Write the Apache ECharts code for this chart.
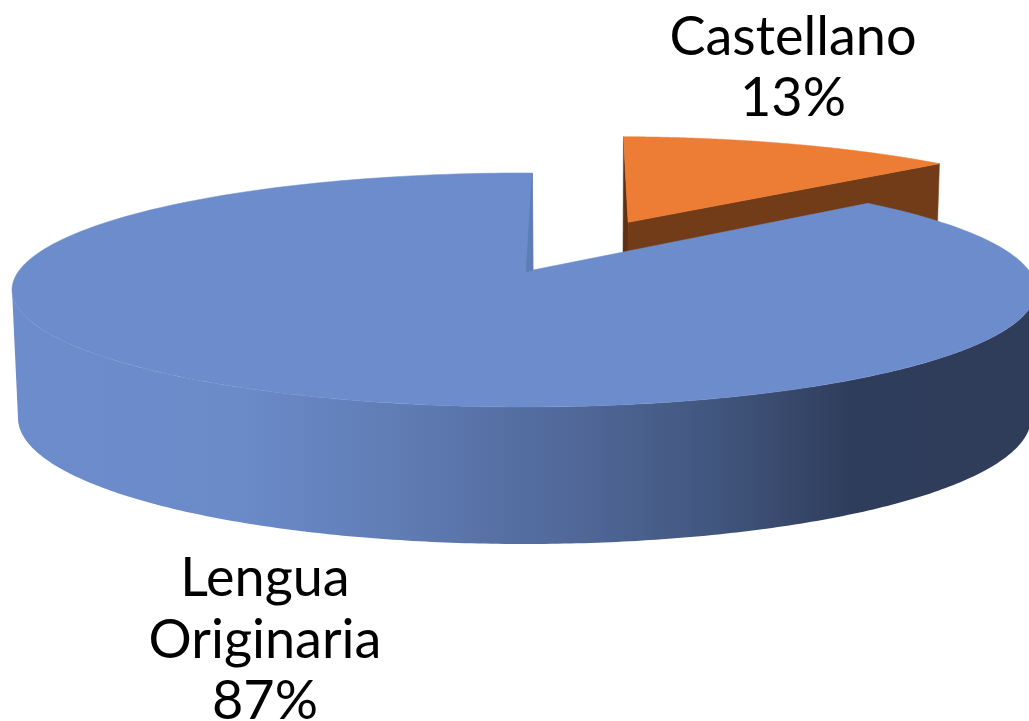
<!DOCTYPE html>
<html><head><meta charset="utf-8">
<style>html,body{margin:0;padding:0;background:#fff}#c{width:1029px;height:721px}</style>
<script src="https://cdn.jsdelivr.net/npm/echarts@6/dist/echarts.min.js"></script>
</head><body><div id="c"></div>
<script>
var categories = ['Lengua Originaria', 'Castellano'];
var values = [87, 13];
var labelLines = [['Lengua', 'Originaria', '87%'], ['Castellano', '13%']];
var labelAnchors = [[265, 606, 61.5], [793, 65, 61]];
var sliceExplode = [0, 0.498];
var rimShift = [[0, 0], [9, -1.5]];
var topColors = ['#6c8ccb', '#ed7d35'];

// Rim ellipses of the disc as photographed (top face and bottom face)
var TOP = { cx: 524, cy: 290, a: 512, b: 117 };
var LOW = { cx: 524.5, cy: 418, a: 506.5, b: 126 };
// Where the pie's centre falls inside the top ellipse (perspective)
var PX = 0.0176, PY = -0.171;
var SWEEP_BIAS = 1.7 * Math.PI / 180;
var total = values[0] + values[1];
var PR = Math.sqrt(PX * PX + PY * PY), AX = PX / PR, AY = PY / PR;

function persp(u, v) {
  var par = u * AX + v * AY, per = u * -AY + v * AX;
  var den = 1 + PR * par, k = Math.sqrt(1 - PR * PR);
  var a = (par + PR) / den, b = per * k / den;
  return [a * AX - b * AY, a * AY + b * AX];
}
function place(p, face, sh) {
  return [face.cx + face.a * p[0] + sh[0], face.cy + face.b * p[1] + sh[1]];
}
function geom(i) {
  var cut = values[1] / total * 2 * Math.PI + SWEEP_BIAS;
  var a0 = i === 0 ? cut : 0, a1 = i === 0 ? 2 * Math.PI : cut;
  var mid = (a0 + a1) / 2, d = sliceExplode[i];
  return { a0: a0, a1: a1, ou: i === 0 ? 0 : d * Math.sin(mid), ov: i === 0 ? 0 : -d * Math.cos(mid), sh: rimShift[i] };
}
function rimPoint(g, t, face) {
  return place(persp(g.ou + Math.sin(t), g.ov - Math.cos(t)), face, g.sh);
}
function rimPts(g, from, to) {
  var pts = [], n = 240;
  for (var j = 0; j <= n; j++) pts.push(rimPoint(g, from + (to - from) * j / n, TOP));
  return pts;
}
function apexOf(g, face) {
  return place(persp(g.ou, g.ov), face, [0, 0]);
}
function poly(points, fill) {
  return { type: 'polygon', shape: { points: points }, style: { fill: fill, stroke: fill, lineWidth: 0.5 } };
}
function drawSlice(i) {
  var g = geom(i), kids = [];
  var apexT = apexOf(g, TOP), apexB = apexOf(g, LOW);
  if (i === 1) {
    kids.push(poly([apexT, rimPoint(g, g.a0, TOP), rimPoint(g, g.a0, LOW), apexB], '#5f3110'));
    kids.push(poly([apexT, rimPoint(g, g.a1, TOP), rimPoint(g, g.a1, LOW), apexB], '#723c18'));
    kids.push(poly([apexT].concat(rimPts(g, g.a0, g.a1)), topColors[1]));
  } else {
    var top = [], bot = [], n = 240;
    for (var j = 0; j <= n; j++) {
      var t = Math.PI * j / n, c = [Math.cos(t), Math.sin(t)];
      top.push(place(c, TOP, [0, 0]));
      bot.unshift(place(c, LOW, [0, 0]));
    }
    kids.push({ type: 'polygon', shape: { points: top.concat(bot) }, style: {
      fill: new echarts.graphic.LinearGradient(0, 0, 1, 0, [
        { offset: 0, color: '#6c8ccb' },
        { offset: 0.23, color: '#6a8ac8' },
        { offset: 0.37, color: '#607db5' },
        { offset: 0.56, color: '#4f6697' },
        { offset: 0.68, color: '#42577f' },
        { offset: 0.82, color: '#2f3d5c' },
        { offset: 1, color: '#2f3d5a' }
      ]) } });
    kids.push(poly([apexT].concat(rimPts(g, g.a0, g.a1)), topColors[0]));
    kids.push(poly([rimPoint(g, g.a1, TOP), apexT, [apexT[0] - 7, apexT[1] + 2]], '#5f7db5'));
  }
  return { type: 'group', children: kids };
}
function renderLabel(params) {
  var i = params.dataIndex, c = labelAnchors[i];
  return { type: 'group', children: labelLines[i].map(function (t, n) {
    return { type: 'text', x: c[0], y: c[1] + n * c[2], style: {
      text: t, fill: '#000', font: '54px Lato', textAlign: 'center', textVerticalAlign: 'bottom' } };
  }) };
}
var chart = echarts.init(document.getElementById('c'), null, { renderer: 'canvas' });
var rows = categories.map(function (n, i) { return { name: n, value: [i, values[i]] }; });
chart.setOption({
  animation: false,
  backgroundColor: '#fff',
  xAxis: { show: false, type: 'value' },
  yAxis: { show: false, type: 'value' },
  grid: { left: 0, right: 0, top: 0, bottom: 0 },
  series: [
    { type: 'custom', name: 'Castellano', data: [rows[1]], clip: false, z: 1, renderItem: function () { return drawSlice(1); } },
    { type: 'custom', name: 'Lengua Originaria', data: [rows[0]], clip: false, z: 2, renderItem: function () { return drawSlice(0); } },
    { type: 'custom', name: 'labels', data: rows, clip: false, z: 3, renderItem: renderLabel }
  ]
});
</script></body></html>
